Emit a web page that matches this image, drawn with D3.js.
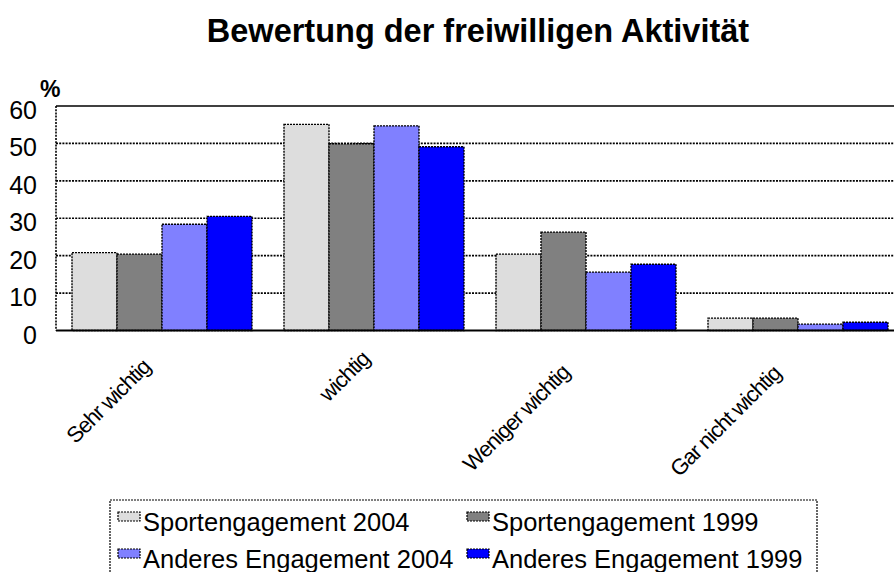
<!DOCTYPE html>
<html><head><meta charset="utf-8">
<script src="https://cdn.jsdelivr.net/npm/d3@7"></script>
<style>
html,body{margin:0;padding:0;background:#fff;}
svg{display:block;font-family:"Liberation Sans",Arial,sans-serif;}
</style></head>
<body>
<svg id="chart" width="894" height="572"></svg>
<script>
const title = "Bewertung der freiwilligen Aktivität";
const categories = ["Sehr wichtig", "wichtig", "Weniger wichtig", "Gar nicht wichtig"];
const seriesNames = ["Sportengagement 2004", "Sportengagement 1999", "Anderes Engagement 2004", "Anderes Engagement 1999"];
const sport2004 = [20.8, 55.1, 20.4, 3.3];
const sport1999 = [20.4, 49.9, 26.3, 3.3];
const anderes2004 = [28.4, 54.7, 15.6, 1.7];
const anderes1999 = [30.5, 49.1, 17.7, 2.2];
const yTicks = [0, 10, 20, 30, 40, 50, 60];
const colors = ["#DDDDDD", "#808080", "#8080FF", "#0000FF"];

const seriesValues = [sport2004, sport1999, anderes2004, anderes1999];
const svg = d3.select("#chart");

const plot = {left: 56, right: 904, top: 106, bottom: 330.5};

const x = d3.scaleBand().domain(categories).range([plot.left, plot.right])
  .paddingInner(32/212).paddingOuter(16/212);
const xs = d3.scaleBand().domain(seriesNames).range([0, x.bandwidth()]).padding(0);
const y = d3.scaleLinear().domain([0, 60]).range([plot.bottom, plot.top]);

// title
svg.append("text").attr("x", 478).attr("y", 42).attr("text-anchor", "middle")
  .attr("font-weight", "bold").attr("font-size", 32.5).text(title);

// % label
svg.append("text").attr("x", 40).attr("y", 97).attr("font-weight", "bold")
  .attr("font-size", 23).text("%");

// gridlines
svg.append("g").selectAll("line").data(yTicks.filter(d => d > 0 && d < 60)).join("line")
  .attr("x1", plot.left).attr("x2", plot.right)
  .attr("y1", d => y(d)).attr("y2", d => y(d))
  .attr("stroke", "#000").attr("stroke-width", 1.6).attr("stroke-dasharray", "2,1.2");

// plot border: top solid, left dashed
svg.append("line").attr("x1", plot.left).attr("x2", plot.right)
  .attr("y1", y(60)).attr("y2", y(60)).attr("stroke", "#000").attr("stroke-width", 1.6);
svg.append("line").attr("x1", plot.left).attr("x2", plot.left)
  .attr("y1", y(60)).attr("y2", y(0)).attr("stroke", "#000").attr("stroke-width", 1.6)
  .attr("stroke-dasharray", "2,1.2");

// y axis labels
const yAxis = d3.axisLeft(y).tickValues(yTicks).tickSize(0).tickPadding(19);
const ga = svg.append("g").attr("transform", `translate(${plot.left},0)`).call(yAxis);
ga.select(".domain").remove();
ga.selectAll("text").attr("font-size", 25).attr("font-family", "Liberation Sans, Arial, sans-serif")
  .attr("fill", "#000").attr("dy", "0.5em");

// bars
const groups = svg.append("g").selectAll("g").data(categories).join("g")
  .attr("transform", d => `translate(${x(d)},0)`);
groups.selectAll("rect").data((c, ci) => seriesNames.map((s, si) => ({s, si, v: seriesValues[si][ci]})))
  .join("rect")
  .attr("x", d => xs(d.s)).attr("width", xs.bandwidth())
  .attr("y", d => y(d.v)).attr("height", d => y(0) - y(d.v))
  .attr("fill", d => colors[d.si])
  .attr("stroke", "#000").attr("stroke-width", 1.4).attr("stroke-dasharray", "2,1");

// x axis line
svg.append("line").attr("x1", plot.left).attr("x2", plot.right)
  .attr("y1", y(0)).attr("y2", y(0)).attr("stroke", "#000").attr("stroke-width", 2);

// category labels rotated
const cl = svg.append("g").selectAll("text").data(categories).join("text")
  .attr("font-size", 22).attr("text-anchor", "end").attr("letter-spacing", "-1px")
  .text(d => d);
cl.each(function(d) {
  const L = this.getComputedTextLength();
  const cx = x(d) + x.bandwidth() / 2 + 6 - 0.15 * L;
  const cy = 350 + 0.17 * L;
  d3.select(this).attr("transform", `translate(${cx},${cy}) rotate(-45)`);
});

// legend
const lg = svg.append("g");
lg.append("rect").attr("x", 110).attr("y", 500).attr("width", 707).attr("height", 100)
  .attr("fill", "#fff").attr("stroke", "#000").attr("stroke-width", 1.2).attr("stroke-dasharray", "2,1");
const legCols = [118, 467];
const legRows = [512, 549];
seriesNames.forEach((s, i) => {
  const cx = legCols[i % 2], ry = legRows[Math.floor(i / 2)];
  lg.append("rect").attr("x", cx).attr("y", ry).attr("width", 22).attr("height", 9)
    .attr("fill", colors[i]).attr("stroke", "#000").attr("stroke-width", 1.2).attr("stroke-dasharray", "2,1");
  lg.append("text").attr("x", cx + 25).attr("y", ry + 19).attr("font-size", 25.5).text(s);
});
</script>
</body></html>
